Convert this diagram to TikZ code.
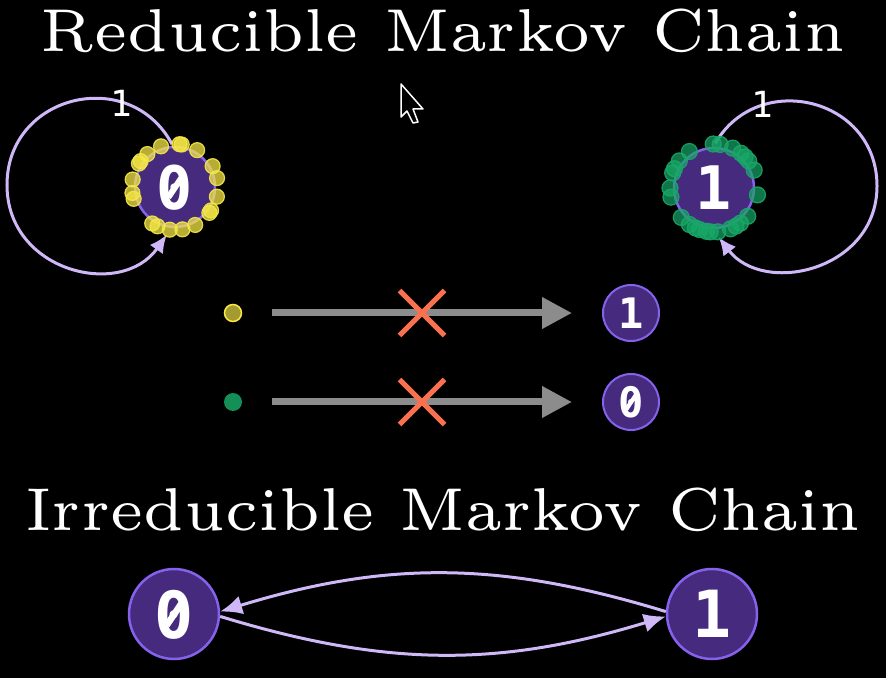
\documentclass[tikz,border=0pt]{standalone}
\usepackage{fontspec}
\usepackage{graphicx}
\newfontfamily\statefont{DejaVu Sans Mono}
\newfontfamily\titlefont{lmroman6-regular.otf}
\newcommand\zslash{\ooalign{0\cr\hss\raisebox{.17em}{\rotatebox{56}{\rule{.4em}{.1em}}}\hss\cr}}
\usetikzlibrary{arrows.meta,calc,shapes.misc}
\definecolor{statefill}{HTML}{452A7E}
\definecolor{stateline}{HTML}{8462EC}
\definecolor{edge}{HTML}{CFB8F7}
\definecolor{flow}{HTML}{8C8C8C}
\definecolor{cross}{HTML}{FA714F}
\definecolor{dotyellow}{HTML}{F5E847}
\definecolor{dotolive}{HTML}{A39B30}
\definecolor{dotgreen}{HTML}{18A867}

\begin{document}
\begin{tikzpicture}[x=1pt,y=1pt,
      state/.style={circle,draw=stateline,fill=statefill,line width=2.5pt,minimum size=80pt,inner sep=0pt,text=white,font=\statefont\bfseries\fontsize{60}{60}\selectfont},
      bigstate/.style={state,minimum size=90pt,font=\statefont\bfseries\fontsize{65}{65}\selectfont},
      smallstate/.style={state,minimum size=56pt,line width=2pt,font=\statefont\bfseries\fontsize{42}{42}\selectfont},
      title/.style={text=white,anchor=base,inner sep=0pt,font=\titlefont\fontsize{60.5}{60.5}\selectfont},
      looplabel/.style={text=white,inner sep=0pt,font=\statefont\fontsize{36}{36}\selectfont},
      loopedge/.style={-{Latex[length=18pt,width=16pt]},line width=3pt,color=edge},
      arrow/.style={-{Latex[length=22pt,width=19pt]},line width=3pt,color=edge},
      blocked/.style={-{Triangle[length=30pt,width=30pt]},line width=7pt,color=flow,shorten <=30pt,shorten >=30pt},
      xmark/.style={cross out,draw=cross,line width=5pt,minimum size=40pt,inner sep=0pt},
      ydot/.style={fill=dotyellow,fill opacity=0.75,draw=dotyellow,draw opacity=0.9,line width=1.2pt},
      gdot/.style={fill=dotgreen,fill opacity=0.7,draw=dotgreen,draw opacity=0.9,line width=1.2pt},
      pastyellow/.style={circle,fill=dotolive,draw=dotyellow,line width=1.5pt,minimum size=17pt,inner sep=0pt},
      pastgreen/.style={circle,fill=dotgreen!85!black,minimum size=18pt,inner sep=0pt}
    ]
      \fill[black] (0,0) rectangle (886,678);
      \useasboundingbox (0,0) rectangle (886,678);
      \node[title] (t1) at (443,626) {Reducible Markov Chain};
      \node[state] (s0) at (175,491) {\zslash};
      \node[state] (s1) at (714,490) {1};
      \coordinate (l0) at (7,493);
      \coordinate (r1) at (877,492);
      \draw[loopedge,shorten <=2pt,shorten >=8pt] (s0.93) to[out=118,in=90,looseness=1.37] (l0) to[out=-90,in=235,looseness=1.31] (s0.265);
      \draw[loopedge,shorten <=4pt,shorten >=10pt] (s1.91) to[out=60,in=90,looseness=1.35] (r1) to[out=-90,in=-52.5,looseness=1.27] (s1.268);
      \node[looplabel] (p0) at (121,575) {1};
      \node[looplabel] (p1) at (762,574) {1};
      \foreach \a in {109,81,84,59,130,143,147,29,12,170,188,196,-13,-37,-33,238,246,263,280,298}
        \filldraw[ydot] ($(s0)+(\a:43)$) circle[radius=7.5];
      \foreach \a in {91,82,65,52,45,38,24,-9,-40,-53,-60,-68,-85,-95,-100,-109,-115,-124,-138,-168,180,160,154,142,124}
        \filldraw[gdot] ($(s1)+(\a:44)$) circle[radius=8];
      \node[pastyellow] (yd) at (233,365) {};
      \node[pastgreen] (gd) at (233,276) {};
      \node[smallstate] (n1) at (631,365) {1};
      \node[smallstate] (n0) at (631,276) {\zslash};
      \draw[blocked] (yd)--(n1);
      \draw[blocked] (gd)--(n0);
      \node[xmark] (x1) at (422,365) {};
      \node[xmark] (x2) at (422,276) {};
      \draw[white,line width=1.5pt,fill=black,line join=round] (401,594) -- (401,561) -- (407,567) -- (413,555) -- (418,556) -- (413,569) -- (423,569) -- cycle;
      \node[title] (t2) at (443,148) {Irreducible Markov Chain};
      \node[bigstate] (b0) at (174,64) {\zslash};
      \node[bigstate] (b1) at (712,64) {1};
      \draw[arrow] (b1.177) to[bend right=17] (b0.3);
      \draw[arrow] (b0.-3) to[bend right=17] (b1.183);
    \end{tikzpicture}
\end{document}
